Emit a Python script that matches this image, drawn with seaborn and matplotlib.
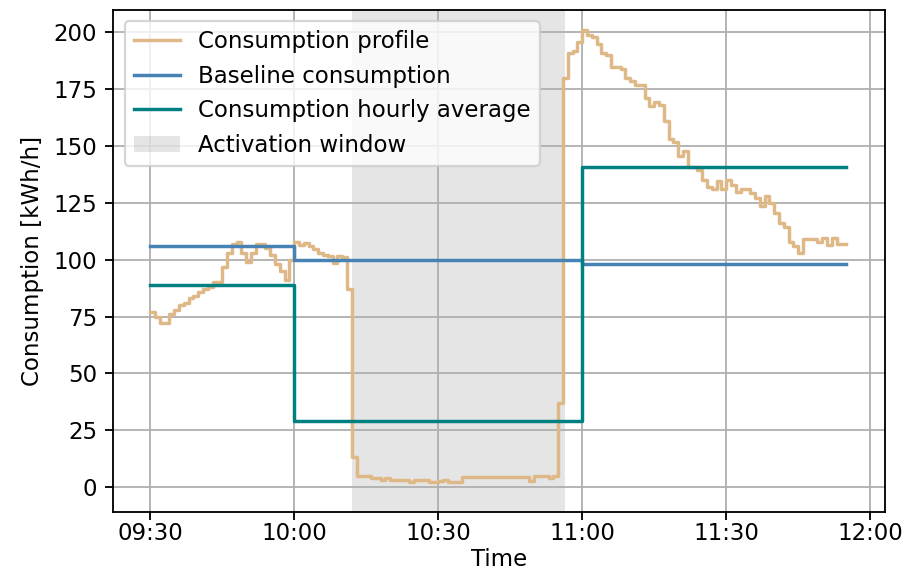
import numpy as np
import pandas as pd
import matplotlib
matplotlib.use("Agg")
import matplotlib.pyplot as plt
import matplotlib.dates as mdates
import seaborn as sns

# ---- data -------------------------------------------------------------
start_time = "2024-01-01 09:30"
profile_values = [
    77, 75, 72, 72, 76, 78, 80, 81, 83, 84,
    86, 87, 88, 90, 90, 97, 103, 107, 108, 103,
    99, 103, 107, 107, 105, 102, 98, 95, 91, 100,
    108, 106.5, 107.5, 106, 104.5, 103, 102, 101.5, 98.5, 101.5,
    101, 87, 13, 5, 5, 5, 4, 4, 3, 4,
    3, 3, 3, 3, 2, 3, 3, 3, 2, 2,
    2.5, 3, 2, 2, 2, 4.3, 4.3, 4.3, 4.3, 4.3,
    4.3, 4.3, 4.3, 4.3, 4.3, 4.3, 4.3, 4.3, 4.3, 2.5,
    5, 5, 5, 4, 5, 37, 180, 191, 192, 196,
    201, 199, 198, 195, 191, 190, 185, 185, 184, 180,
    178.5, 177, 177, 171, 167.5, 169.5, 168, 161, 153, 152,
    145.5, 148, 141, 141, 139.5, 135, 132, 131, 134.5, 131,
    135, 133, 130, 131, 131, 129.5, 127, 123.5, 128, 125,
    120.5, 116, 114.5, 108, 106, 103, 109, 109, 109, 108,
    109.5, 106.5, 109.5, 107, 107,
]
step_times = ["09:30", "10:00", "11:00", "11:55"]
baseline_values = [106, 100, 98, 98]
hourly_avg_values = [89, 29, 141, 141]
activation_window = ["10:12", "10:56:30"]

# ---- build frames -----------------------------------------------------
day = "2024-01-01 "
t_profile = pd.date_range(start_time, periods=len(profile_values) + 1, freq="min")
df_profile = pd.DataFrame({"time": t_profile,
                           "value": profile_values + [profile_values[-1]]})
t_steps = pd.to_datetime([day + s for s in step_times])
df_base = pd.DataFrame({"time": t_steps, "value": baseline_values})
df_avg = pd.DataFrame({"time": t_steps, "value": hourly_avg_values})

# ---- plot -------------------------------------------------------------
DPI = 165
fig, ax = plt.subplots(figsize=(920 / DPI, 573 / DPI), dpi=DPI)
fig.subplots_adjust(left=0.123, right=0.962, top=0.983, bottom=0.1065)

ax.axvspan(pd.Timestamp(day + activation_window[0]),
           pd.Timestamp(day + activation_window[1]),
           color="grey", alpha=0.2, lw=0, label="Activation window", zorder=0)

sns.lineplot(data=df_profile, x="time", y="value", ax=ax, color="burlywood",
             drawstyle="steps-post", linewidth=1.5, label="Consumption profile")
sns.lineplot(data=df_base, x="time", y="value", ax=ax, color="steelblue",
             drawstyle="steps-post", linewidth=1.5, label="Baseline consumption")
sns.lineplot(data=df_avg, x="time", y="value", ax=ax, color="teal",
             drawstyle="steps-post", linewidth=1.5,
             label="Consumption hourly average")

t0 = pd.Timestamp(start_time)
ax.set_xlim(t0 - pd.Timedelta(minutes=7.7), t0 + pd.Timedelta(minutes=153.1))
ax.set_ylim(-11, 210)
ax.xaxis.set_major_locator(mdates.MinuteLocator(byminute=[0, 30]))
ax.xaxis.set_major_formatter(mdates.DateFormatter("%H:%M"))
ax.set_yticks([0, 25, 50, 75, 100, 125, 150, 175, 200])
ax.tick_params(axis="x", pad=0.8)
ax.grid(True, color="#b0b0b0", linewidth=0.8)
ax.set_axisbelow(True)
ax.set_xlabel("Time", labelpad=1.5)
ax.set_ylabel("Consumption [kWh/h]")

handles, labels = ax.get_legend_handles_labels()
order = ["Consumption profile", "Baseline consumption",
         "Consumption hourly average", "Activation window"]
hmap = dict(zip(labels, handles))
ax.legend([hmap[l] for l in order], order, loc="upper left")

fig.savefig("out.png", dpi=DPI)
